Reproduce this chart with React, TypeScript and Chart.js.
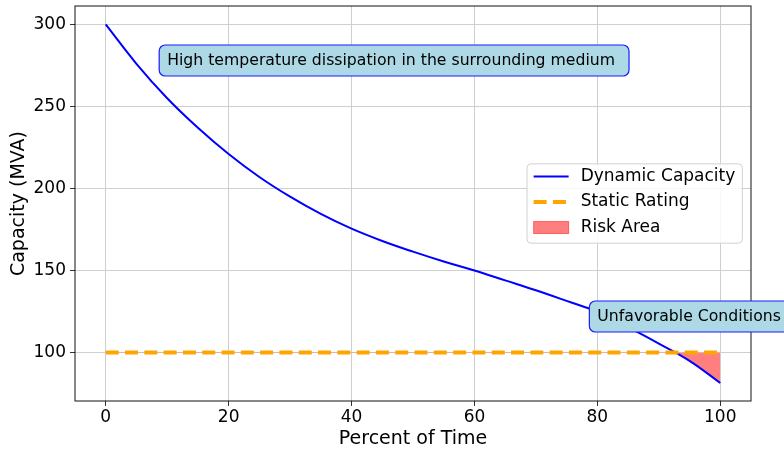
import React, { useEffect, useRef } from "react";
import { Chart, registerables } from "chart.js";

Chart.register(...registerables);

// Percent of time (x) and the corresponding transformer capacity (MVA)
const percentTime = [0, 5, 10, 15, 20, 25, 30, 35, 40, 45, 50, 55, 60, 65, 70, 75, 80, 85, 90, 95, 100];
const dynamicCapacity = [300, 276, 255, 237, 221, 207, 195, 184.5, 175.5, 168, 161.5, 155.5, 150, 144, 138, 131.5, 124.8, 115.5, 105.5, 95, 81.5];
const staticRating = [100, 100, 100, 100, 100, 100, 100, 100, 100, 100, 100, 100, 100, 100, 100, 100, 100, 100, 100, 100, 100];
const ratingLevel = 100;

const xTicks = [0, 20, 40, 60, 80, 100];
const yTicks = [100, 150, 200, 250, 300];

const seriesLabels = ["Dynamic Capacity", "Static Rating", "Risk Area"];

const noteTexts = ["High temperature dissipation in the surrounding medium", "Unfavorable Conditions"];
const noteX = [10, 80];
const noteY = [278, 122];

const FONT = "'DejaVu Sans', sans-serif";
const RISK_COLOR = "rgba(255, 0, 0, 0.5)";

export default function App() {
  const ref = useRef<HTMLCanvasElement | null>(null);

  useEffect(() => {
    const canvas = ref.current;
    if (!canvas) return;

    const toPoints = (ys: number[]) => percentTime.map((x, i) => ({ x, y: ys[i] }));

    // Axes frame on all four sides
    const framePlugin = {
      id: "axesFrame",
      afterDatasetsDraw(chart: any) {
        const { ctx, chartArea: a } = chart;
        ctx.save();
        ctx.strokeStyle = "rgba(0,0,0,0.85)";
        ctx.lineWidth = 1.1;
        ctx.strokeRect(a.left, a.top, a.right - a.left, a.bottom - a.top);
        ctx.restore();
      },
    };

    // Legend box placed at the centre right of the plot area
    const legendPlugin = {
      id: "boxLegend",
      afterDraw(chart: any) {
        const { ctx, chartArea: a } = chart;
        const ds = chart.data.datasets;
        ctx.save();
        ctx.font = `17px ${FONT}`;
        const textW = Math.max(...ds.map((d: any) => ctx.measureText(d.label).width));
        const padL = 6.6;
        const handleW = 35;
        const gap = 12;
        const padR = 7;
        const rowH = 25.5;
        const boxW = padL + handleW + gap + textW + padR;
        const boxH = 79.3;
        const right = a.right - 8.7;
        const left = right - boxW;
        const top = (a.top + a.bottom) / 2 - boxH / 2;

        ctx.beginPath();
        ctx.roundRect(left, top, boxW, boxH, 4);
        ctx.fillStyle = "rgba(255,255,255,0.85)";
        ctx.fill();
        ctx.strokeStyle = "rgba(204,204,204,0.9)";
        ctx.lineWidth = 1;
        ctx.stroke();

        ds.forEach((d: any, i: number) => {
          const cy = top + 12.7 + i * rowH;
          const hx = left + padL;
          if (d.fill) {
            ctx.fillStyle = d.backgroundColor;
            ctx.fillRect(hx, cy - 6, handleW, 12);
            ctx.strokeStyle = d.backgroundColor;
            ctx.lineWidth = 1;
            ctx.strokeRect(hx, cy - 6, handleW, 12);
          } else {
            ctx.beginPath();
            ctx.setLineDash(d.borderDash || []);
            ctx.strokeStyle = d.borderColor;
            ctx.lineWidth = d.borderWidth;
            ctx.moveTo(hx, cy);
            ctx.lineTo(hx + handleW, cy);
            ctx.stroke();
            ctx.setLineDash([]);
          }
          ctx.fillStyle = "#000";
          ctx.textBaseline = "middle";
          ctx.textAlign = "left";
          ctx.fillText(d.label, hx + handleW + gap, cy);
        });
        ctx.restore();
      },
    };

    // Rounded text boxes placed at data coordinates
    const notesPlugin = {
      id: "notes",
      afterDraw(chart: any) {
        const { ctx, scales } = chart;
        ctx.save();
        ctx.font = `15.7px ${FONT}`;
        ctx.textBaseline = "middle";
        ctx.textAlign = "left";
        noteTexts.forEach((text, i) => {
          const x = scales.x.getPixelForValue(noteX[i]);
          const y = scales.y.getPixelForValue(noteY[i]);
          const w = ctx.measureText(text).width;
          const h = 31;
          ctx.beginPath();
          ctx.roundRect(x - 8, y - h / 2, w + 22, h, 6);
          ctx.fillStyle = "#add8e6";
          ctx.fill();
          ctx.strokeStyle = "#1a1aff";
          ctx.lineWidth = 1.2;
          ctx.stroke();
          ctx.fillStyle = "#000";
          ctx.fillText(text, x, y);
        });
        ctx.restore();
      },
    };

    const chart = new Chart(canvas, {
      type: "line",
      data: {
        datasets: [
          {
            label: seriesLabels[0],
            data: toPoints(dynamicCapacity),
            borderColor: "#0000ff",
            borderWidth: 2,
            tension: 0.4,
            fill: false,
            order: 1,
          },
          {
            label: seriesLabels[1],
            data: toPoints(staticRating),
            borderColor: "#ffa500",
            borderWidth: 4,
            borderDash: [13, 6.3],
            fill: false,
            order: 0,
          },
          {
            label: seriesLabels[2],
            data: toPoints(dynamicCapacity),
            borderColor: "rgba(0,0,0,0)",
            borderWidth: 0,
            backgroundColor: RISK_COLOR,
            tension: 0.4,
            fill: { target: { value: ratingLevel }, above: "rgba(0,0,0,0)", below: RISK_COLOR },
            order: 2,
          },
        ] as any,
      },
      options: {
        animation: false,
        responsive: false,
        devicePixelRatio: 1,
        layout: { padding: { top: 6, right: 33, left: 0, bottom: 0 } },
        elements: { point: { radius: 0, hoverRadius: 0 } },
        plugins: { legend: { display: false }, tooltip: { enabled: false } },
        scales: {
          x: {
            type: "linear",
            min: -5,
            max: 105,
            afterFit: (s: any) => {
              s.height = 52;
              s.paddingLeft = 0;
              s.paddingRight = 0;
            },
            afterBuildTicks: (s: any) => {
              s.ticks = xTicks.map((v) => ({ value: v }));
            },
            ticks: { font: { family: FONT, size: 17 }, color: "#000", padding: 1.5, maxRotation: 0, autoSkip: false },
            grid: { color: "#cfcfcf", lineWidth: 1, tickLength: 5, tickColor: "#333", tickWidth: 1 },
            border: { display: false },
            title: {
              display: true,
              text: "Percent of Time",
              font: { family: FONT, size: 19 },
              color: "#000",
              padding: { top: 0, bottom: 2.8 },
            },
          },
          y: {
            type: "linear",
            min: 70.5,
            max: 311.2,
            afterFit: (s: any) => {
              s.width = 75;
              s.paddingTop = 0;
              s.paddingBottom = 0;
            },
            afterBuildTicks: (s: any) => {
              s.ticks = yTicks.map((v) => ({ value: v }));
            },
            ticks: { font: { family: FONT, size: 17 }, color: "#000", padding: 4, autoSkip: false },
            grid: { color: "#cfcfcf", lineWidth: 1, tickLength: 5, tickColor: "#333", tickWidth: 1 },
            border: { display: false },
            title: {
              display: true,
              text: "Capacity (MVA)",
              font: { family: FONT, size: 19 },
              color: "#000",
              padding: { top: 7.6, bottom: 0 },
            },
          },
        },
      } as any,
      plugins: [framePlugin, legendPlugin, notesPlugin],
    });

    return () => chart.destroy();
  }, []);

  return (
    <div style={{ position: "fixed", left: 0, top: 0, width: 784, height: 453, background: "#fff" }}>
      <canvas ref={ref} width={784} height={453} style={{ display: "block" }} />
    </div>
  );
}
